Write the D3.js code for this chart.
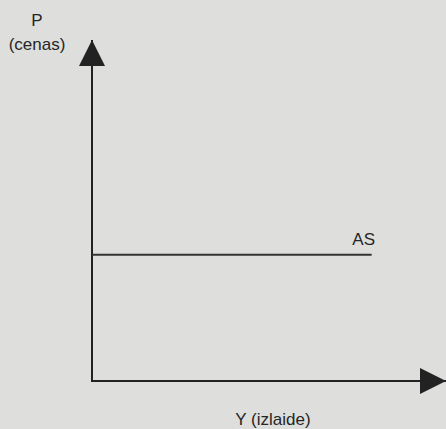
<!DOCTYPE html>
<html>
  <head>
    <meta charset="utf-8">
    <script type="text/javascript" src="https://cdn.jsdelivr.net/npm/d3@7"></script>
    <style type="text/css">
      body { margin: 0; background: #dededc; }
      text { font-family: "Liberation Sans", Arial, sans-serif; fill: #262626; }
    </style>
  </head>
  <body>
    <script type="text/javascript">
      // axis titles
      var yTitle = ["P", "(cenas)"];
      var xTitle = "Y (izlaide)";

      // AS curve: horizontal, output from 0 to 79 at price level 37
      var asOutput = [0, 79];
      var asPrice = [37, 37];
      var asLabel = "AS";

      var width = 446, height = 429;

      var svg = d3.select("body")
        .append("svg")
        .attr("width", width)
        .attr("height", height);

      // scales, origin at the axes corner
      var xScale = d3.scaleLinear().domain([0, 100]).range([92, 446]);
      var yScale = d3.scaleLinear().domain([0, 100]).range([381, 40]);

      // arrow head marker
      svg.append("defs").append("marker")
        .attr("id", "arrow")
        .attr("viewBox", "0 0 26 26")
        .attr("refX", 26)
        .attr("refY", 13)
        .attr("markerWidth", 26)
        .attr("markerHeight", 26)
        .attr("markerUnits", "userSpaceOnUse")
        .attr("orient", "auto")
        .append("path")
        .attr("d", "M0,0 L26,13 L0,26 Z")
        .attr("fill", "#222");

      // y axis
      svg.append("line")
        .attr("x1", xScale(0)).attr("y1", yScale(0))
        .attr("x2", xScale(0)).attr("y2", yScale(100))
        .attr("stroke", "#222")
        .attr("stroke-width", 2)
        .attr("marker-end", "url(#arrow)");

      // x axis
      svg.append("line")
        .attr("x1", xScale(0) - 1).attr("y1", yScale(0))
        .attr("x2", xScale(100)).attr("y2", yScale(0))
        .attr("stroke", "#222")
        .attr("stroke-width", 2)
        .attr("marker-end", "url(#arrow)");

      // AS line
      var asData = asOutput.map(function(d, i) { return [d, asPrice[i]]; });
      svg.append("path")
        .datum(asData)
        .attr("fill", "none")
        .attr("stroke", "#333")
        .attr("stroke-width", 2)
        .attr("d", d3.line()
          .x(function(d) { return xScale(d[0]); })
          .y(function(d) { return yScale(d[1]); }));

      svg.append("text")
        .attr("x", xScale(asOutput[1]) - 8)
        .attr("y", yScale(asPrice[1]) - 10)
        .attr("text-anchor", "middle")
        .style("font-size", "17px")
        .text(asLabel);

      // y axis title
      svg.selectAll(".ytitle")
        .data(yTitle)
        .enter()
        .append("text")
        .attr("class", "ytitle")
        .attr("x", 37)
        .attr("y", function(d, i) { return 26 + i * 24; })
        .attr("text-anchor", "middle")
        .style("font-size", "17px")
        .text(function(d) { return d; });

      // x axis title
      svg.append("text")
        .attr("x", 273)
        .attr("y", 425)
        .attr("text-anchor", "middle")
        .style("font-size", "17px")
        .text(xTitle);
    </script>
  </body>
</html>
